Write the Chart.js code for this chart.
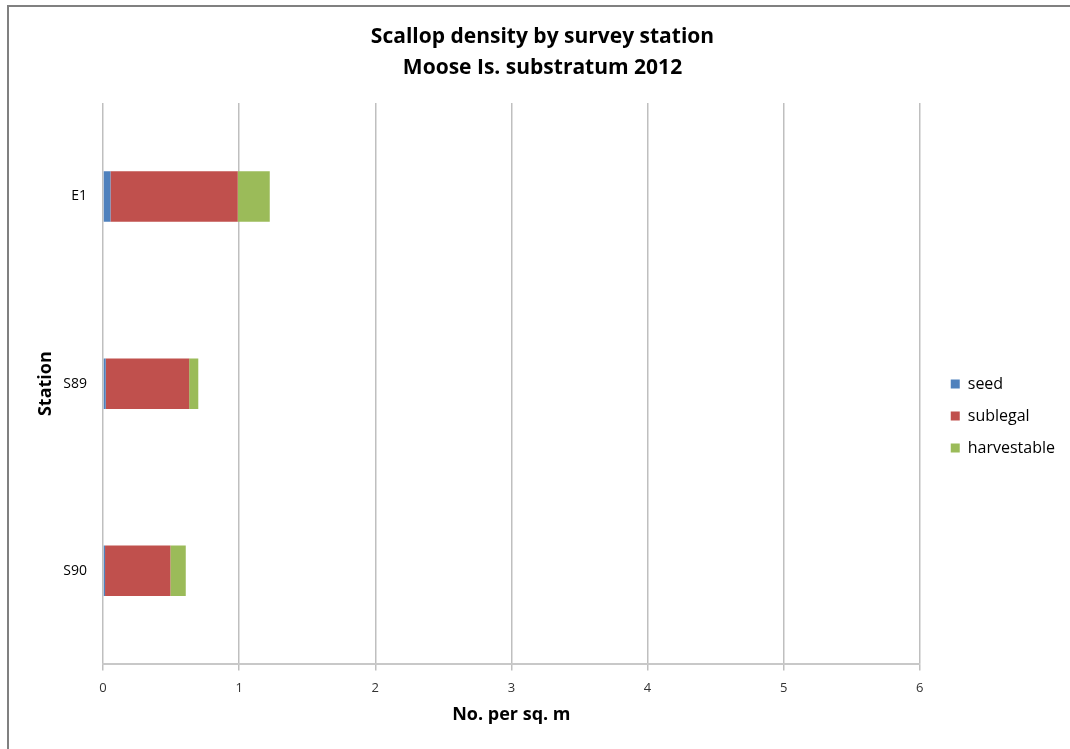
<!DOCTYPE html>
<html>
<head>
<meta charset="utf-8">
<script src="https://cdn.jsdelivr.net/npm/chart.js@4"></script>
<style>
  html, body { margin: 0; padding: 0; background: #fff; }
  #wrap { position: relative; width: 1070px; height: 749px; }
  #frame { position: absolute; left: 7px; top: 5px; right: 0; bottom: 0;
           border-top: 2px solid #808080; border-left: 2px solid #808080; pointer-events: none; }
  canvas { position: absolute; left: 0; top: 0; }
</style>
</head>
<body>
<div id="wrap">
  <canvas id="chart" width="1070" height="749"></canvas>
  <div id="frame"></div>
</div>
<script>
  // stations (top to bottom) and density per sq. m
  const stations = ['E1', 'S89', 'S90'];
  const seed = [0.055, 0.02, 0.015];
  const sublegal = [0.935, 0.613, 0.48];
  const harvestable = [0.235, 0.067, 0.113];
  const xTicks = [0, 1, 2, 3, 4, 5, 6];

  const font = "'Open Sans', Lato, sans-serif";

  // nudge the legend into the spot Excel put it
  const legendShift = {
    id: 'legendShift',
    afterLayout: function (chart, args, opts) {
      const lg = chart.legend;
      if (!lg) return;
      lg.left += opts.dx; lg.right += opts.dx;
      lg.top += opts.dy; lg.bottom += opts.dy;
    }
  };

  document.addEventListener('DOMContentLoaded', function () {
    const ctx = document.getElementById('chart').getContext('2d');
    new Chart(ctx, {
      type: 'bar',
      data: {
        labels: stations,
        datasets: [
          { label: 'seed', data: seed, backgroundColor: '#4F81BD' },
          { label: 'sublegal', data: sublegal, backgroundColor: '#C0504D' },
          { label: 'harvestable', data: harvestable, backgroundColor: '#9BBB59' }
        ]
      },
      plugins: [legendShift],
      options: {
        indexAxis: 'y',
        responsive: false,
        animation: false,
        barPercentage: 0.27,
        categoryPercentage: 1,
        layout: { padding: { left: 35, right: 20, top: 22, bottom: 25 } },
        plugins: {
          legendShift: { dx: 15, dy: 43 },
          title: {
            display: true,
            text: ['Scallop density by survey station', 'Moose Is. substratum 2012'],
            color: '#000',
            font: { family: font, size: 21, weight: 'bold', lineHeight: 1.45 },
            padding: { top: 0, bottom: 20 }
          },
          legend: {
            position: 'right',
            labels: {
              color: '#000',
              font: { family: font, size: 16 },
              boxWidth: 9,
              boxHeight: 9,
              padding: 16
            }
          },
          tooltip: { enabled: false }
        },
        scales: {
          x: {
            stacked: true,
            min: 0,
            max: 6,
            afterBuildTicks: function (axis) {
              axis.ticks = xTicks.map(function (v) { return { value: v }; });
            },
            grid: { color: '#bfbfbf', lineWidth: 1.5, tickLength: 6, drawTicks: true },
            border: { color: '#c8c8c8', width: 2 },
            ticks: { color: '#333', font: { family: font, size: 13 }, padding: 10 },
            title: {
              display: true,
              text: 'No. per sq. m',
              color: '#000',
              font: { family: font, size: 18, weight: 'bold', lineHeight: 1.0 },
              padding: { top: 0, bottom: 0 }
            }
          },
          y: {
            stacked: true,
            afterFit: function (axis) { axis.width = 68; },
            grid: { display: false, drawTicks: false },
            border: { display: false },
            ticks: { color: '#000', font: { family: font, size: 14 }, padding: 16 },
            title: {
              display: true,
              text: 'Station',
              color: '#000',
              font: { family: font, size: 18, weight: 'bold' },
              padding: { top: 0, bottom: 0 }
            }
          }
        }
      }
    });
  });
</script>
</body>
</html>
